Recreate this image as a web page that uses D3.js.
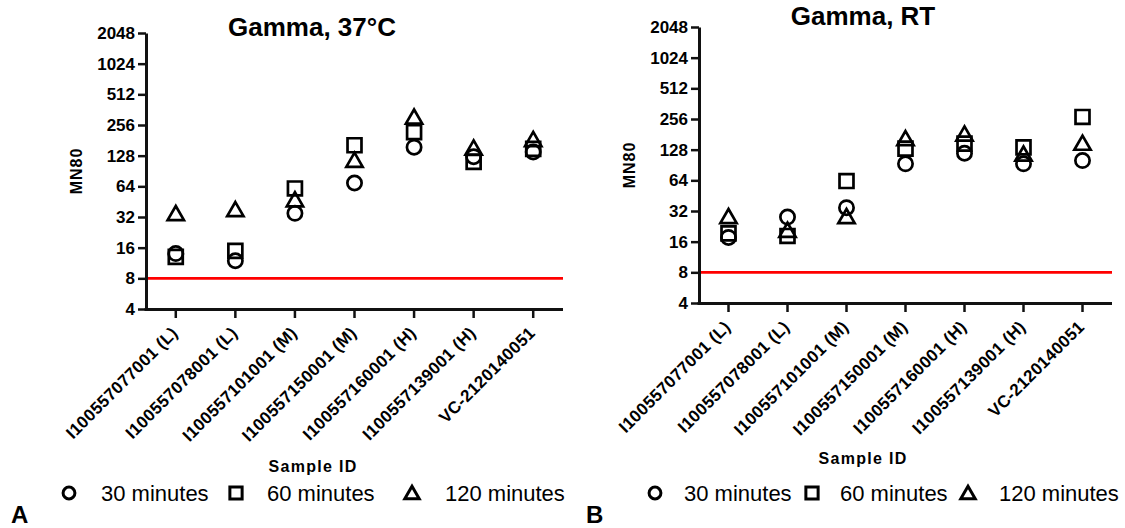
<!DOCTYPE html>
<html><head><meta charset="utf-8">
<script src="https://cdn.jsdelivr.net/npm/d3@7"></script>
<style>
body{margin:0;background:#fff;}
svg{display:block;font-family:"Liberation Sans",Arial,sans-serif;}
</style></head>
<body><svg id="c" width="1125" height="528"></svg>
<script>
const categories = ["I100557077001 (L)","I100557078001 (L)","I100557101001 (M)","I100557150001 (M)","I100557160001 (H)","I100557139001 (H)","VC-2120140051"];
const yTicks = [4,8,16,32,64,128,256,512,1024,2048];
const seriesNames = ["30 minutes","60 minutes","120 minutes"];
const threshold = 8;
// Panel A: Gamma, 37°C
const a30  = [14, 11.9, 34.8, 69, 155, 125, 139];
const a60  = [13, 14.9, 61, 162, 218, 111, 149];
const a120 = [34.3, 37.5, 46.9, 114.5, 304, 151, 183];
// Panel B: Gamma, RT
const b30  = [17.6, 27.9, 34.5, 93, 118, 93, 100];
const b60  = [19.3, 18.2, 63, 131, 147, 135, 268];
const b120 = [28, 20.5, 28, 163, 181, 115, 147];

const svg = d3.select("#c");
const symbols = [d3.symbolCircle, d3.symbolSquare, d3.symbolTriangle];
const symSize = [160, 195, 115];

function panel(cfg){
  const g = svg.append("g");
  const y = d3.scaleLog().base(2).domain([4,2048]).range([cfg.bottom, cfg.top]);
  const x = d3.scaleBand().domain(categories).range([cfg.left, cfg.right]);
  const cx = d => x(d) + x.bandwidth()/2;

  // threshold line
  g.append("line").attr("x1", cfg.left).attr("x2", cfg.right)
    .attr("y1", y(threshold)).attr("y2", y(threshold))
    .attr("stroke", "#ff0000").attr("stroke-width", 2.6);

  // y axis
  const ya = g.append("g").attr("transform", `translate(${cfg.left},0)`)
    .call(d3.axisLeft(y).tickValues(yTicks).tickFormat(d3.format("d")).tickSize(8).tickSizeOuter(0).tickPadding(3));
  ya.select(".domain").attr("stroke","#111").attr("stroke-width",3);
  ya.selectAll(".tick line").attr("stroke","#111").attr("stroke-width",2.5);
  ya.selectAll(".tick text").attr("font-size",17).attr("font-weight","bold").attr("fill","#000")
    .attr("font-family","'Liberation Sans',Arial,sans-serif");

  // x axis
  const xa = g.append("g").attr("transform", `translate(0,${cfg.bottom})`)
    .call(d3.axisBottom(x).tickSize(9).tickSizeOuter(0).tickFormat(""));
  xa.select(".domain").attr("stroke","#111").attr("stroke-width",3)
    .attr("d", `M${cfg.left-1.5},0.5H${cfg.right}`);
  xa.selectAll(".tick line").attr("stroke","#111").attr("stroke-width",2.5);

  // x tick labels rotated
  g.selectAll("text.xl").data(categories).join("text").attr("class","xl")
    .attr("transform", d => `translate(${cx(d)+3},${cfg.bottom+25}) rotate(-45)`)
    .attr("text-anchor","end").attr("font-size",17).attr("font-weight","bold")
    .attr("letter-spacing","0.3px")
    .text(d => d);

  // points
  const series = [cfg.s30, cfg.s60, cfg.s120];
  series.forEach((vals, si) => {
    g.selectAll(null).data(vals).join("path")
      .attr("d", d3.symbol().type(symbols[si]).size(symSize[si]))
      .attr("transform", (v,i) => `translate(${cx(categories[i])},${y(v) + (si===2?1.5:0)})`)
      .attr("fill","none").attr("stroke","#000").attr("stroke-width",2.7);
  });

  // title
  g.append("text").attr("x", cfg.titleX).attr("y", cfg.titleY).attr("text-anchor","middle")
    .attr("font-size",26).attr("font-weight","bold").text(cfg.title);
  // y label
  g.append("text").attr("transform", `translate(${cfg.left-64},${(cfg.top+cfg.bottom)/2}) rotate(-90)`)
    .attr("text-anchor","middle").attr("font-size",16).attr("font-weight","bold")
    .attr("letter-spacing","1px").text("MN80");
  // x label
  g.append("text").attr("x", cfg.xlabX).attr("y", cfg.xlabY).attr("text-anchor","middle")
    .attr("font-size",16).attr("font-weight","bold").attr("letter-spacing","1.3px").text("Sample ID");

  // legend
  const lg = g.append("g");
  cfg.legMarks.forEach((mx, i) => {
    lg.append("path").attr("d", d3.symbol().type(symbols[i]).size([110,150,90][i]))
      .attr("transform", `translate(${mx},${493 + (i===2?1.5:0)})`)
      .attr("fill","none").attr("stroke","#000").attr("stroke-width",3);
    lg.append("text").attr("x", cfg.legText[i]).attr("y", 501)
      .attr("font-size",22).text(seriesNames[i]);
  });
  // panel letter
  g.append("text").attr("x", cfg.letterX).attr("y", 523).attr("font-size",24)
    .attr("font-weight","bold").text(cfg.letter);
}

panel({left:146, right:563, top:33, bottom:309, s30:a30, s60:a60, s120:a120,
  title:"Gamma, 37°C", titleX:312, titleY:36, xlabX:313, xlabY:472,
  legMarks:[69,236,412], legText:[101,267,445], letter:"A", letterX:11});
panel({left:699, right:1112, top:27, bottom:303, s30:b30, s60:b60, s120:b120,
  title:"Gamma, RT", titleX:863, titleY:25, xlabX:863, xlabY:464,
  legMarks:[655,812,968], legText:[684,840,999], letter:"B", letterX:586});
</script></body></html>
